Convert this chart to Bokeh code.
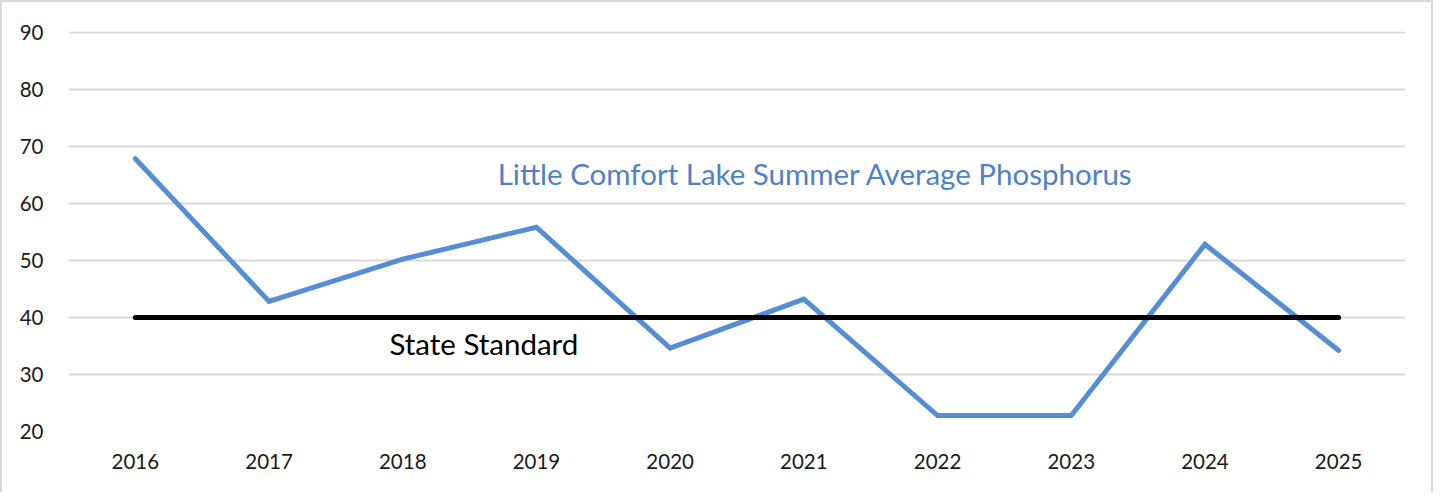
from bokeh.plotting import figure
from bokeh.models import Range1d, FactorRange, Label
from bokeh.embed import file_html
from bokeh.resources import INLINE

years = ["2016", "2017", "2018", "2019", "2020", "2021", "2022", "2023", "2024", "2025"]
phosphorus = [67.8, 42.8, 50.2, 55.8, 34.6, 43.2, 22.8, 22.8, 52.8, 34.2]
state_standard = [40] * len(years)
y_ticks = [20, 30, 40, 50, 60, 70, 80, 90]

FONT = "Lato"

p = figure(x_range=FactorRange(*years), y_range=Range1d(20, 90.1),
           width=1433, height=492, output_backend="svg", toolbar_location=None,
           min_border_left=66, min_border_right=30, min_border_top=29, min_border_bottom=63)
p.styles = {"border-top": "2px solid #d9d9d9", "border-left": "2px solid #d9d9d9",
            "border-right": "2px solid #d9d9d9"}
p.outline_line_color = None
p.background_fill_color = "white"

p.line(years, phosphorus, line_color="#558ED5", line_width=5, line_cap="round", line_join="miter")
p.line(years, state_standard, line_color="black", line_width=5, line_cap="round")

p.xgrid.grid_line_color = None
p.ygrid.grid_line_color = "#d9d9d9"
p.ygrid.grid_line_width = 2
p.yaxis.ticker = y_ticks

for ax in (p.xaxis, p.yaxis):
    ax.axis_line_color = None
    ax.major_tick_line_color = None
    ax.minor_tick_line_color = None
    ax.major_label_text_font = FONT
    ax.major_label_text_font_size = "20.5px"
    ax.major_label_text_color = "#1a1a1a"
p.yaxis.major_label_standoff = 19
p.xaxis.major_label_standoff = 16

p.add_layout(Label(x=3.21, y=65.3, text="Little Comfort Lake Summer Average Phosphorus",
                   text_font=FONT, text_font_size="29.5px", text_color="#4F81C7",
                   text_baseline="middle", text_align="left"))
p.add_layout(Label(x=2.40, y=35.4, text="State Standard",
                   text_font=FONT, text_font_size="29.5px", text_color="black",
                   text_baseline="middle", text_align="left"))

open("out.html", "w").write(file_html(p, INLINE))
